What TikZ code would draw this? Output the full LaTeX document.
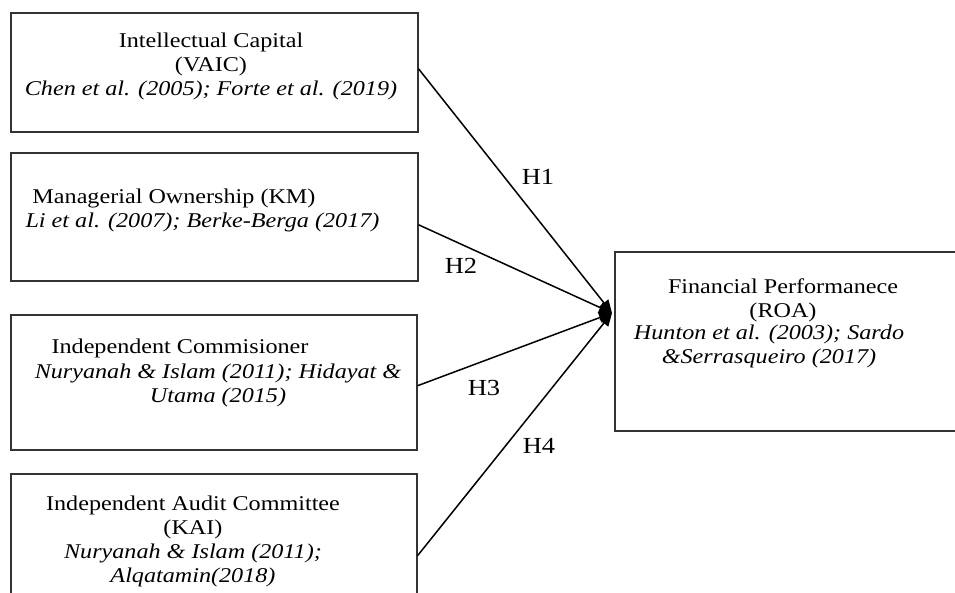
\documentclass[tikz,border=0pt]{standalone}
\usepackage{fontspec}
\setmainfont[FakeStretch=1.15]{Liberation Serif}
\usetikzlibrary{arrows.meta}
\tikzset{
    varbox/.style={draw=black!80, line width=1.5pt, anchor=north west, inner sep=0pt},
    vartext/.style={anchor=north, inner sep=0pt, align=center, font=\fontsize{21}{24}\selectfont},
    hyp/.style={anchor=base, inner sep=0pt, font=\fontsize{23}{26}\selectfont},
    link/.style={line width=1.5pt, -{Triangle[length=13pt,width=11pt]}}
}
\begin{document}
\begin{tikzpicture}[x=1pt, y=-1pt]
    \useasboundingbox (0,0) rectangle (955,592);
    \node[varbox, minimum width=407pt, minimum height=119pt] (ic) at (10,12) {};
    \node[varbox, minimum width=407pt, minimum height=128pt] (km) at (10,152) {};
    \node[varbox, minimum width=406pt, minimum height=135pt] (kin) at (10,314) {};
    \node[varbox, minimum width=406pt, minimum height=140pt] (kai) at (10,473) {};
    \node[varbox, minimum width=360pt, minimum height=179pt] (roa) at (614,251) {};
    \node[vartext] (ictext) at (211,32.5) {Intellectual Capital\\(VAIC)\\\itshape Chen et al. (2005); Forte et al. (2019)};
    \node[vartext] (kmtext) at (174,188.5) {Managerial Ownership (KM)};
    \node[vartext] (kmref) at (202.5,212.5) {\itshape Li et al. (2007); Berke-Berga (2017)};
    \node[vartext] (kintext) at (180,338.5) {Independent Commisioner};
    \node[vartext] (kinref) at (218,363.5) {\itshape Nuryanah \& Islam (2011); Hidayat \&\\\itshape Utama (2015)};
    \node[vartext] (kaitext) at (193,495.5) {Independent Audit Committee\\(KAI)\\\itshape Nuryanah \& Islam (2011);\\\itshape Alqatamin(2018)};
    \node[vartext] (roatext) at (783,278.5) {Financial Performanece\\(ROA)};
    \node[vartext] (roaref) at (769,324.5) {\itshape Hunton et al. (2003); Sardo\\\itshape \&Serrasqueiro (2017)};
    \coordinate (tip) at (612,313);
    \draw[link] ([yshift=3.5pt]ic.east) -- (tip);
    \draw[link] ([yshift=-8pt]km.east) -- (tip);
    \draw[link] ([yshift=-3.5pt]kin.east) -- (tip);
    \draw[link] ([yshift=-12pt]kai.east) -- (tip);
    \node[hyp] (h1) at (538,184) {H1};
    \node[hyp] (h2) at (461,273) {H2};
    \node[hyp] (h3) at (484,395) {H3};
    \node[hyp] (h4) at (539,453) {H4};
\end{tikzpicture}
\end{document}
